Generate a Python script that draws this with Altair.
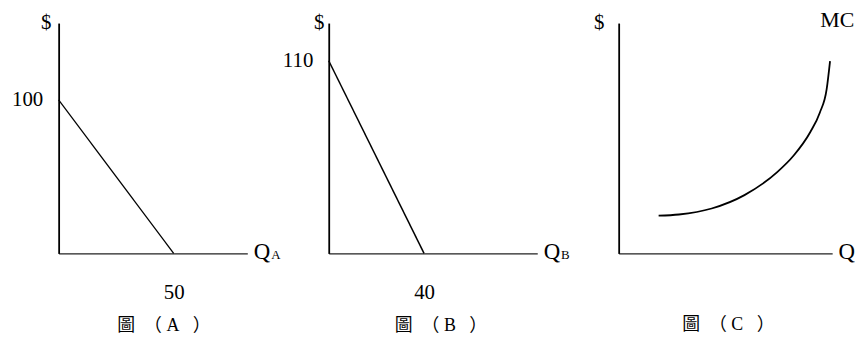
import altair as alt
import pandas as pd

# ---- data ----
# Panel A: demand for A
qa = [0, 50]
pa = [100, 0]
# Panel B: demand for B
qb = [0, 40]
pb = [110, 0]
# Panel C: marginal cost curve (qualitative)
qc = [1.89, 2.85, 4.40, 5.95, 7.50, 8.28, 9.06, 9.52, 9.84, 10.0]
pc = [1.64, 1.69, 1.95, 2.53, 3.53, 4.25, 5.26, 6.12, 7.13, 8.35]

x_ticks = [[50], [40], []]
y_ticks = [[100], [110], []]
subscripts = ["A", "B", ""]
panel_titles = ["圖　（ A\u2002 ）", "圖　（ B\u2002 ）", "圖　（ C\u2002 ）"]
curve_label = ["MC"]

SERIF = "Liberation Serif"
MIXED = "'Liberation Serif', 'Noto Sans CJK TC'"


def panel(q, p, w, h, xmax, ymax, xt, yt, sub, ptitle, ytitle_x, title_offset,
          title_dx, stroke_w, interp="linear", label=None):
    df = pd.DataFrame({"q": q, "p": p})
    x = alt.X(
        "q:Q",
        scale=alt.Scale(domain=[0, xmax], nice=False),
        axis=alt.Axis(
            values=xt, labels=len(xt) > 0, grid=False, ticks=False,
            domainColor="#222", domainWidth=1.3,
            labelFont=SERIF, labelFontSize=21, labelColor="black",
            labelPadding=28, labelFlush=False,
            title="Q", titleX=w + 6, titleY=-2, titleAlign="left",
            titleBaseline="middle", titleFont=SERIF, titleFontSize=23,
            titleFontWeight="normal", titleColor="black",
        ),
    )
    y = alt.Y(
        "p:Q",
        scale=alt.Scale(domain=[0, ymax], nice=False),
        axis=alt.Axis(
            values=yt, labels=len(yt) > 0, grid=False, ticks=False,
            domainColor="black", domainWidth=1.8,
            labelFont=SERIF, labelFontSize=21, labelColor="black",
            labelPadding=16, labelFlush=False,
            title="$", titleAngle=0, titleX=ytitle_x, titleY=-1,
            titleAlign="center", titleBaseline="middle", titleFont=SERIF,
            titleFontSize=21, titleFontWeight="normal", titleColor="black",
        ),
    )
    line = alt.Chart(df).mark_line(
        color="black", strokeWidth=stroke_w, interpolate=interp
    ).encode(x=x, y=y)
    layers = [line]
    if sub:
        s = alt.Chart(pd.DataFrame({"t": [sub]})).mark_text(
            font=SERIF, fontSize=13, align="left", baseline="alphabetic",
            color="black",
        ).encode(text="t:N", x=alt.value(w + 24), y=alt.value(h + 6))
        layers.append(s)
    if label:
        m = alt.Chart(pd.DataFrame({"t": label})).mark_text(
            font=SERIF, fontSize=22, align="left", baseline="middle",
            color="black",
        ).encode(text="t:N", x=alt.value(w - 12), y=alt.value(-3))
        layers.append(m)
    return alt.layer(*layers).properties(
        width=w, height=h,
        title=alt.TitleParams(
            ptitle, orient="bottom", anchor="middle", font=MIXED,
            fontSize=18, fontWeight="normal", color="black",
            offset=title_offset, dx=title_dx,
        ),
    )


H = 232
pA = panel(qa, pa, 190, H, 82, 150, x_ticks[0], y_ticks[0], subscripts[0],
           panel_titles[0], -13, 15, 11, 1.3)
pB = panel(qb, pb, 210, H, 87.5, 131.5, x_ticks[1], y_ticks[1], subscripts[1],
           panel_titles[1], -10, 15, 8, 1.5)
pC = panel(qc, pc, 215, H, 10.1, 10, x_ticks[2], y_ticks[2], subscripts[2],
           panel_titles[2], -20, 53, 3, 1.8, interp="monotone",
           label=curve_label)

chart = alt.hconcat(pA, pB, pC, spacing=82, bounds="flush").configure_view(
    stroke=None
).properties(
    padding={"left": 3, "top": 0, "right": 0, "bottom": 0},
    background="white",
)

chart.save("out.html", embed_options={"renderer": "svg", "actions": False})
